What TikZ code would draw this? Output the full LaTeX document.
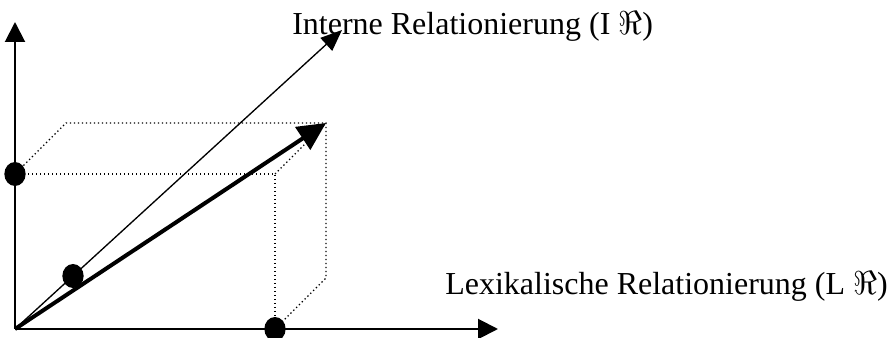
\documentclass[tikz,border=0pt]{standalone}
\usepackage{fontspec}
\setmainfont{Liberation Serif}
\usetikzlibrary{arrows.meta, positioning, shapes.geometric}

\begin{document}
\begin{tikzpicture}[x=0.75pt, y=-0.75pt,
    axis/.style={line width=1.5pt, -{Triangle[length=15pt, width=15pt]}},
    thinarrow/.style={line width=1pt, -{Triangle[length=16pt, width=13pt]}},
    thickarrow/.style={line width=3pt, -{Triangle[length=21pt, width=20pt]}},
    hidden/.style={dotted, line width=1pt},
    dot/.style={ellipse, fill, inner sep=0pt, minimum width=16pt, minimum height=18pt},
    lbl/.style={font=\fontsize{24pt}{28pt}\selectfont, inner sep=0pt, anchor=base west}]
  \useasboundingbox (0,0) rectangle (889,338);
  % origin and axis ends
  \coordinate (o) at (15,329);
  \coordinate (ytip) at (15,22);
  \coordinate (xtip) at (498,329);
  \coordinate (itip) at (342,30);
  % box corners
  \coordinate (fbr) at (275,329);
  \coordinate (ftl) at (15,174);
  \coordinate (ftr) at (275,174);
  \coordinate (btl) at (66,123);
  \coordinate (btr) at (326,123);
  \coordinate (bbr) at (326,278);
  % dotted box
  \draw[hidden] (o) -- (ftl) -- (ftr) -- (fbr) -- cycle;
  \draw[hidden] (ftl) -- (btl) -- (btr) -- (bbr) -- (fbr);
  \draw[hidden] (ftr) -- (btr);
  % axes
  \draw[axis] (o) -- (ytip);
  \draw[axis] (o) -- (xtip);
  \draw[thinarrow] (o) -- (itip);
  \draw[thickarrow] (o) -- (btr);
  % points
  \node[dot] (dy) at (ftl) {};
  \node[dot] (dx) at (fbr) {};
  \node[dot] (di) at (73,276) {};
  % labels
  \node[lbl] (li) at (292,35) {Interne Relationierung (I $\Re$)};
  \node[lbl] (ll) at (445,295) {Lexikalische Relationierung (L $\Re$)};
\end{tikzpicture}
\end{document}
